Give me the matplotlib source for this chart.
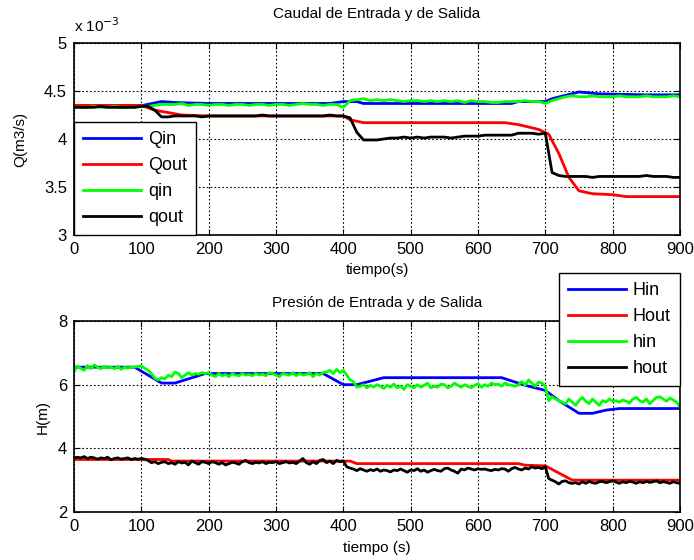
import matplotlib
matplotlib.use('Agg')
import matplotlib.pyplot as plt
import numpy as np

plt.rcParams['font.family'] = ['Liberation Sans', 'DejaVu Sans']

# ---- caudal (x 1e-3 m3/s) ----
tQin = [0, 95, 130, 150, 200, 380, 400, 420, 430, 650, 660, 700, 710, 750, 780, 850, 900]
Qin = [4.34, 4.34, 4.39, 4.38, 4.37, 4.37, 4.39, 4.39, 4.37, 4.37, 4.39, 4.39, 4.42, 4.49, 4.47, 4.46, 4.46]

tQout = [0, 100, 120, 160, 200, 400, 410, 430, 640, 660, 690, 705, 720, 735, 750, 770, 800, 820, 900]
Qout = [4.35, 4.35, 4.30, 4.25, 4.24, 4.24, 4.20, 4.17, 4.17, 4.15, 4.10, 4.05, 3.85, 3.60, 3.46, 3.43, 3.42, 3.40, 3.40]

qin = [4.33, 4.33, 4.33, 4.34, 4.33, 4.33, 4.34, 4.33, 4.33, 4.33, 4.34,
       4.34, 4.35, 4.36, 4.36, 4.36, 4.37, 4.35, 4.36, 4.36, 4.35, 4.36, 4.36, 4.35, 4.36, 4.36,
       4.35, 4.36, 4.36, 4.35, 4.36, 4.36, 4.35, 4.36, 4.37, 4.36, 4.36, 4.35, 4.36, 4.36,
       4.33, 4.40, 4.41, 4.42, 4.40, 4.41, 4.40, 4.41, 4.40, 4.39, 4.40, 4.40, 4.39, 4.40, 4.39,
       4.40, 4.39, 4.40, 4.38, 4.40, 4.39, 4.39, 4.38, 4.38, 4.39,
       4.39, 4.39, 4.40, 4.39, 4.39, 4.37, 4.40, 4.42, 4.44, 4.45, 4.44, 4.44, 4.45, 4.44, 4.44,
       4.44, 4.45, 4.44, 4.44, 4.44, 4.45, 4.44, 4.44, 4.44, 4.45, 4.44]

qout = [4.33, 4.33, 4.33, 4.33, 4.34, 4.33, 4.33, 4.33, 4.33, 4.33, 4.34,
        4.34, 4.30, 4.23, 4.23, 4.24, 4.24, 4.24, 4.24, 4.23, 4.24, 4.24, 4.24, 4.24, 4.24, 4.24,
        4.24, 4.24, 4.25, 4.24, 4.24, 4.24, 4.24, 4.24, 4.24, 4.24, 4.24, 4.24, 4.25, 4.24, 4.24,
        4.22, 4.07, 3.99, 3.99, 3.99, 4.00, 4.01, 4.01, 4.02, 4.01, 4.02, 4.01, 4.02, 4.02, 4.02,
        4.01, 4.02, 4.03, 4.03, 4.03, 4.04, 4.04, 4.04, 4.04, 4.04, 4.06, 4.06, 4.06, 4.05, 4.06,
        3.65, 3.62, 3.61, 3.61, 3.61, 3.61, 3.60, 3.61, 3.61, 3.61, 3.61, 3.61, 3.61, 3.61, 3.62,
        3.61, 3.61, 3.61, 3.60, 3.60]

# ---- presion (m) ----
tHin = [0, 90, 130, 150, 195, 370, 400, 420, 460, 635, 670, 700, 720, 750, 770, 790, 810, 900]
Hin = [6.55, 6.55, 6.05, 6.05, 6.35, 6.35, 6.0, 6.0, 6.22, 6.22, 5.98, 5.82, 5.5, 5.1, 5.1, 5.2, 5.25, 5.25]

tHout = [0, 140, 145, 410, 420, 660, 670, 700, 740, 900]
Hout = [3.65, 3.65, 3.60, 3.60, 3.52, 3.52, 3.47, 3.45, 3.00, 3.00]

hin = [6.40, 6.58, 6.52, 6.45, 6.60, 6.50, 6.62, 6.55, 6.50, 6.58, 6.52, 6.55, 6.50, 6.58, 6.48,
       6.55, 6.52, 6.55, 6.55, 6.58, 6.58,
       6.52, 6.45, 6.35, 6.20, 6.15, 6.22, 6.18, 6.30, 6.25, 6.40, 6.35, 6.22, 6.30, 6.38, 6.30,
       6.35, 6.33, 6.38, 6.35,
       6.38, 6.30, 6.25, 6.35, 6.28, 6.32, 6.25, 6.35, 6.30, 6.28, 6.35, 6.30, 6.32, 6.28, 6.35,
       6.30, 6.33, 6.28, 6.38, 6.35, 6.30, 6.25, 6.35, 6.32, 6.30, 6.38, 6.28, 6.35, 6.30, 6.32,
       6.38, 6.25, 6.35, 6.30, 6.38,
       6.40, 6.45, 6.35, 6.48, 6.38, 6.45, 6.30, 6.15, 6.10,
       5.92, 5.95, 6.00, 5.90, 5.98, 5.92, 6.00, 5.95, 5.88, 5.98, 5.92, 6.02, 5.90, 5.95, 5.85,
       6.00, 5.95, 5.90, 6.00, 5.92, 5.98, 6.05, 5.90, 5.95, 5.92, 6.02, 6.00, 5.90, 5.95, 6.05,
       5.98, 5.92, 6.00, 5.95, 5.90, 5.98, 6.02, 5.92, 6.00, 5.95, 6.05, 6.00, 6.02, 5.95, 6.05,
       6.00, 5.98,
       5.95, 6.00, 6.10, 5.98, 6.15, 6.05, 5.95, 6.08, 6.05, 5.95,
       5.50, 5.62, 5.55, 5.50, 5.45, 5.40, 5.55, 5.45, 5.35, 5.50, 5.60, 5.48, 5.40, 5.55, 5.45,
       5.35, 5.50, 5.45, 5.55, 5.48, 5.50, 5.45, 5.52, 5.48, 5.42, 5.55, 5.60, 5.50, 5.45, 5.55,
       5.40, 5.50, 5.60, 5.62, 5.55, 5.48, 5.58, 5.52, 5.45, 5.30]

hout = [3.70, 3.72, 3.70, 3.74, 3.68, 3.72, 3.70, 3.66, 3.70, 3.68, 3.72, 3.64, 3.68, 3.70, 3.66,
        3.68, 3.70, 3.65, 3.68, 3.66, 3.68,
        3.66, 3.62, 3.55, 3.58, 3.52, 3.56, 3.58, 3.52, 3.55, 3.50, 3.58, 3.54, 3.56, 3.48, 3.60,
        3.55, 3.50, 3.58, 3.56, 3.52, 3.58, 3.55, 3.50, 3.55, 3.48, 3.52, 3.56, 3.54, 3.50, 3.58,
        3.62, 3.55, 3.52, 3.56, 3.54, 3.58, 3.52, 3.56, 3.55, 3.58, 3.52, 3.55, 3.58, 3.54, 3.56,
        3.52, 3.60, 3.68, 3.55, 3.50, 3.58, 3.52, 3.62, 3.65, 3.55, 3.60, 3.52, 3.62, 3.58, 3.60,
        3.42, 3.38, 3.35, 3.30, 3.36, 3.32, 3.28, 3.33, 3.30, 3.35, 3.28, 3.32, 3.30, 3.26, 3.32,
        3.30, 3.35, 3.30, 3.25, 3.32, 3.30, 3.36, 3.28, 3.32, 3.25, 3.30, 3.34, 3.30, 3.28, 3.36,
        3.38, 3.32, 3.28, 3.22, 3.35, 3.32, 3.38, 3.35, 3.32, 3.36, 3.34, 3.35, 3.32, 3.30, 3.34,
        3.32, 3.36, 3.35, 3.28, 3.36, 3.40, 3.35, 3.32, 3.38, 3.35, 3.42, 3.38, 3.40, 3.36, 3.42,
        3.05, 3.00, 2.95, 2.88, 2.96, 2.98, 2.92, 2.90, 2.92, 2.88, 2.95, 2.90, 2.96, 2.92, 2.90,
        2.95, 2.96, 2.92, 2.95, 2.98, 2.94, 2.90, 2.95, 2.92, 2.96, 2.94, 2.90, 2.95, 2.92, 2.96,
        2.93, 2.95, 2.98, 2.92, 2.95, 2.93, 2.90, 2.95, 2.92, 2.90]

xticks = list(range(0, 1000, 100))

fig = plt.figure(figsize=(6.94, 5.6), dpi=100)
ax1 = fig.add_axes([74/694, 1-235/560, 606/694, 192/560])
ax2 = fig.add_axes([74/694, 1-512/560, 606/694, 191/560])

lw = 2.0
ax1.plot(tQin, Qin, color='b', lw=lw, label='Qin')
ax1.plot(tQout, Qout, color='r', lw=lw, label='Qout')
ax1.plot(np.linspace(0, 900, len(qin)), qin, color=(0, 1, 0), lw=lw, label='qin')
ax1.plot(np.linspace(0, 900, len(qout)), qout, color='k', lw=lw, label='qout')

ax2.plot(tHin, Hin, color='b', lw=lw, label='Hin')
ax2.plot(tHout, Hout, color='r', lw=lw, label='Hout')
ax2.plot(np.linspace(0, 900, len(hin)), hin, color=(0, 1, 0), lw=lw, label='hin')
ax2.plot(np.linspace(0, 900, len(hout)), hout, color='k', lw=lw, label='hout')

for ax in (ax1, ax2):
    ax.set_xlim(0, 900)
    ax.set_xticks(xticks)
    ax.grid(True, color='k', linestyle=(0, (1.5, 2)), linewidth=0.8)
    ax.tick_params(direction='in', top=True, right=True, labelsize=12, length=4, pad=5)
    for s in ax.spines.values():
        s.set_linewidth(1.2)

ax1.set_ylim(3, 5)
ax1.set_yticks([3, 3.5, 4, 4.5, 5])
ax1.set_yticklabels(['3', '3.5', '4', '4.5', '5'])
ax1.text(0, 1.04, r'x 10$^{-3}$', transform=ax1.transAxes, fontsize=11, ha='left', va='bottom')
ax1.set_title('Caudal de Entrada y de Salida', fontsize=11, pad=18)
ax1.set_xlabel('tiempo(s)', fontsize=11, labelpad=4)
ax1.set_ylabel('Q(m3/s)', fontsize=11, labelpad=12)

ax2.set_ylim(2, 8)
ax2.set_yticks([2, 4, 6, 8])
ax2.set_title('Presión de Entrada y de Salida', fontsize=11, pad=10)
ax2.set_xlabel('tiempo (s)', fontsize=11, labelpad=5)
ax2.set_ylabel('H(m)', fontsize=11, labelpad=6)

leg1 = ax1.legend(loc='upper left', bbox_to_anchor=(74/694, 1-122/560), bbox_transform=fig.transFigure,
                  fontsize=13, fancybox=False, edgecolor='k', framealpha=1, handlelength=3.2,
                  borderaxespad=0, labelspacing=0.5, handletextpad=0.4, borderpad=0.5)
leg1.get_frame().set_linewidth(1.0)
leg2 = ax2.legend(loc='upper right', bbox_to_anchor=(680/694, 1-273/560), bbox_transform=fig.transFigure,
                  fontsize=13, fancybox=False, edgecolor='k', framealpha=1, handlelength=3.2,
                  borderaxespad=0, labelspacing=0.5, handletextpad=0.4, borderpad=0.5)
leg2.get_frame().set_linewidth(1.0)

fig.savefig('out.png', dpi=100)
